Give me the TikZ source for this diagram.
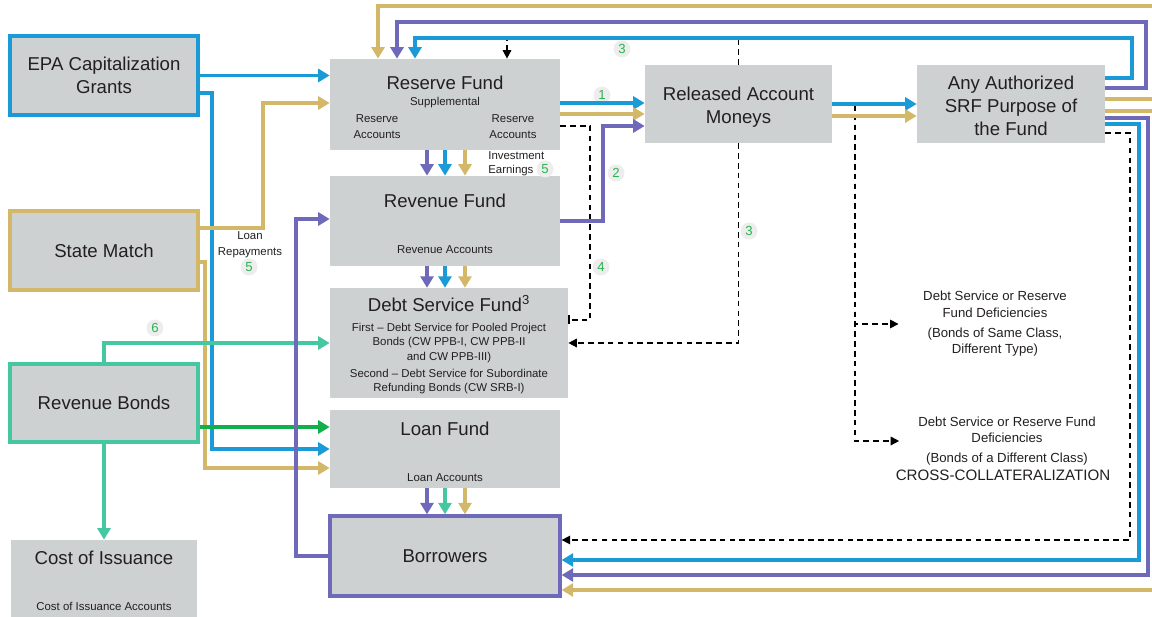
\documentclass[tikz,border=0pt]{standalone}
\usepackage{fontspec}
\setmainfont{Liberation Sans}
\usetikzlibrary{arrows.meta, positioning, calc}

\definecolor{boxgray}{RGB}{205,209,209}
\definecolor{cblue}{RGB}{27,154,216}
\definecolor{cgold}{RGB}{212,184,106}
\definecolor{cpurple}{RGB}{110,105,185}
\definecolor{cteal}{RGB}{69,199,162}
\definecolor{cgreen}{RGB}{18,176,76}
\definecolor{badgegreen}{RGB}{40,180,80}
\definecolor{inkgray}{RGB}{35,31,32}

\newcommand{\boxfont}{\fontsize{10.6}{13}\selectfont}
\newcommand{\subfont}{\fontsize{6.5}{8.2}\selectfont}
\newcommand{\notefont}{\fontsize{7.5}{9.4}\selectfont}

\begin{document}
\begin{tikzpicture}[
        x=0.02cm, y=-0.02cm,
        box/.style={rectangle, fill=boxgray, text=inkgray, align=center, inner sep=2pt, font=\boxfont},
        source/.style={box, draw=#1, line width=1.9pt, minimum width=3.76cm, minimum height=1.58cm},
        fund/.style={box, font=\subfont, minimum width=4.6cm},
        flow/.style={line width=2pt, -{Triangle[length=2.3mm, width=2.6mm]}},
        plain/.style={line width=2pt},
        dashflow/.style={black, line width=0.9pt, dash pattern=on 3.2pt off 2.4pt, -{Triangle[length=1.7mm, width=1.7mm]}},
        badge/.style={circle, fill=black!7, text=badgegreen, font=\notefont, inner sep=0pt, minimum size=0.34cm},
        note/.style={text=inkgray, align=center, font=\notefont}
    ]
        \useasboundingbox (0,0) rectangle (1152,617);

        % sources
        \node[source=cblue] (epa) at (104,75.5) {EPA Capitalization\\Grants};
        \node[source=cgold] (match) at (104,250.5) {State Match};
        \node[source=cteal, minimum height=1.56cm] (bonds) at (104,403) {Revenue Bonds};
        \node[fund, minimum width=3.72cm, minimum height=1.54cm] (issuance) at (104,578.5) {{\boxfont\rule{0pt}{10.5pt}Cost of Issuance}\\[17.9pt]Cost of Issuance Accounts};

        % funds
        \node[fund, minimum height=1.82cm] (reserve) at (445,104.5) {{\boxfont\rule{0pt}{13pt}Reserve Fund}\\[1.1pt]Supplemental\\[1.4pt]\begin{tabular}[t]{@{}c@{\hspace{1.78cm}}c@{}}Reserve & Reserve\\[0.9pt] Accounts & Accounts\end{tabular}};
        \node[fund, minimum height=1.8cm] (revenue) at (445,221) {{\boxfont\rule{0pt}{10.5pt}Revenue Fund}\\[17.9pt]Revenue Accounts};
        \node[fund, minimum width=4.76cm, minimum height=2.08cm] (debt) at (449,343) {{\boxfont\rule{0pt}{11.5pt}Debt Service Fund\textsuperscript{3}}\\[2.9pt]First -- Debt Service for Pooled Project\\Bonds (CW PPB-I, CW PPB-II\\[0.3pt]and CW PPB-III)\\[1.4pt]Second -- Debt Service for Subordinate\\Refunding Bonds (CW SRB-I)};
        \node[fund, minimum height=1.56cm] (loan) at (445,449) {{\boxfont\rule{0pt}{11pt}Loan Fund}\\[18pt]Loan Accounts};
        \node[fund, draw=cpurple, line width=1.9pt, minimum height=1.6cm] (borrowers) at (445,556) {{\boxfont Borrowers}};

        % uses
        \node[box, minimum width=3.74cm, minimum height=1.56cm] (released) at (738.5,104) {\rule{0pt}{11.1pt}Released Account\\Moneys};
        \node[box, minimum width=3.76cm, minimum height=1.56cm] (purpose) at (1011,104) {\rule{0pt}{10pt}Any Authorized\\SRF Purpose of\\the Fund};

        % notes
        \node[note] (defsame) at (995,324) {Debt Service or Reserve\\Fund Deficiencies\\[2pt](Bonds of Same Class,\\Different Type)};
        \node[note] (defdiff) at (1007,441) {Debt Service or Reserve Fund\\Deficiencies\\[2pt](Bonds of a Different Class)};
        \node[text=inkgray, font=\fontsize{8.6}{10}\selectfont] (crosscoll) at (1003,475) {CROSS-COLLATERALIZATION};
        \node[text=inkgray, font=\subfont, align=left, anchor=west, inner xsep=0pt] (earnings) at (488,164) {Investment\\Earnings};
        \node[text=inkgray, font=\subfont, align=center] (repay) at (250,245) {Loan\\[1pt]Repayments};

        % step numbers
        \node[badge] (n1) at (602,95) {1};
        \node[badge] (n2) at (616,173) {2};
        \node[badge] (n3a) at (622,49) {3};
        \node[badge] (n3b) at (749,231) {3};
        \node[badge] (n4) at (601,267) {4};
        \node[badge] (n5a) at (545,169) {5};
        \node[badge] (n5b) at (249,267) {5};
        \node[badge] (n6) at (155,328) {6};

        \coordinate (split) at (855,105);
        \coordinate (goldin1) at (1152,6);
        \coordinate (goldin2) at (1152,590);
        \coordinate (goldout1) at (1152,99);
        \coordinate (goldout2) at (1152,111);

        % dashed deficiency paths
        \draw[dashflow] (released.north) |- (507,38) -- (reserve.north -| 507,0);
        \draw[dashflow, -{Bar[width=1.8mm]}] (reserve.east |- 0,126) -| (590,320) -- (debt.east |- 0,320);
        \draw[dashflow] (released.south) |- (debt.east);
        \draw[dashflow] (split) |- ([xshift=-0.37cm]defsame.west);
        \draw[dashflow] (split) |- ([xshift=-0.26cm]defdiff.west);
        \draw[dashflow] (purpose.east |- 0,133) -| (1130,540) -- (borrowers.east |- 0,540);

        % inflows
        \draw[flow, cblue] (epa.east) -- (reserve.west |- epa.east);
        \draw[flow, cblue] (epa.east |- 0,93) -| (212,449) -- (loan.west);
        \draw[flow, cgold] (match.east |- 0,228) -| (263,103) -- (reserve.west |- 0,103);
        \draw[flow, cgold] (match.east |- 0,262) -| (205,468) -- (loan.west |- 0,468);
        \draw[flow, cteal] (bonds.north) |- (debt.west);
        \draw[flow, cgreen] (bonds.east |- 0,427) -- (loan.west |- 0,427);
        \draw[flow, cteal] (bonds.south) -- (issuance.north);
        \draw[flow, cpurple] (borrowers.west) -| (296,219) -- (revenue.west |- 0,219);

        % fund to fund
        \foreach \dx/\col in {-0.36cm/cpurple, 0cm/cblue, 0.4cm/cgold} {
            \draw[flow, \col] ([xshift=\dx]reserve.south) -- ([xshift=\dx]reserve.south |- revenue.north);
            \draw[flow, \col] ([xshift=\dx]revenue.south) -- ([xshift=\dx]revenue.south |- debt.north);
        }
        \foreach \dx/\col in {-0.36cm/cpurple, 0cm/cteal, 0.4cm/cgold}
            \draw[flow, \col] ([xshift=\dx]loan.south) -- ([xshift=\dx]loan.south |- borrowers.north);

        \draw[flow, cblue] (reserve.east |- 0,103) -- (released.west |- 0,103);
        \draw[flow, cgold] (reserve.east |- 0,114) -- (released.west |- 0,114);
        \draw[flow, cpurple] (revenue.east) -| (603,126) -- (released.west |- 0,126);
        \draw[flow, cblue] (released.east) -- (purpose.west);
        \draw[flow, cgold] (released.east |- 0,116) -- (purpose.west |- 0,116);

        % loops back
        \draw[flow, cblue] (purpose.east |- 0,78) -| (1132,38) -| (reserve.north -| 415,0);
        \draw[flow, cpurple] (purpose.east |- 0,88) -| (1146,22) -| (reserve.north -| 397,0);
        \draw[flow, cgold] (goldin1) -| (reserve.north -| 378,0);
        \draw[plain, cgold] (purpose.east |- goldout1) -- (goldout1);
        \draw[plain, cgold] (purpose.east |- goldout2) -- (goldout2);
        \draw[flow, cpurple] (purpose.east |- 0,118) -| (1148,575) -- (borrowers.east |- 0,575);
        \draw[flow, cblue] (purpose.east |- 0,124) -| (1139,560) -- (borrowers.east |- 0,560);
        \draw[flow, cgold] (goldin2) -- (borrowers.east |- goldin2);
    \end{tikzpicture}
\end{document}
